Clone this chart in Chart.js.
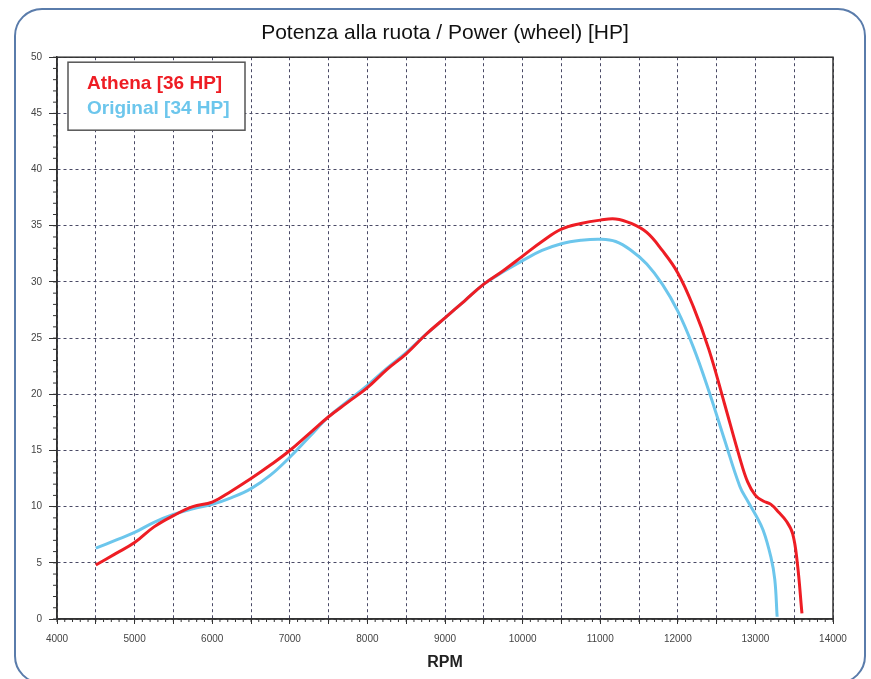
<!DOCTYPE html>
<html>
<head>
<meta charset="utf-8">
<script src="https://cdn.jsdelivr.net/npm/chart.js@4/dist/chart.umd.min.js"></script>
<style>
  body { margin: 0; background: #fff; }
  #wrap { position: relative; width: 871px; height: 679px; overflow: hidden; }
  #frame { position: absolute; left: 14px; top: 8px; width: 848px; height: 672px;
           border: 2px solid #5a7cab; border-radius: 28px; pointer-events: none; }
  canvas { position: absolute; left: 0; top: 0; }
</style>
</head>
<body>
<div id="wrap">
  <canvas id="powerChart" width="871" height="679"></canvas>
  <div id="frame"></div>
</div>
<script>
// Athena curve (rpm / HP)
const athenaRpm = [4500, 4750, 5000, 5250, 5500, 5750, 6000, 6250, 6500, 6750, 7000, 7250, 7500, 7750, 8000, 8250, 8500, 8750, 9000, 9250, 9500, 9750, 10000, 10250, 10500, 10750, 11000, 11200, 11400, 11600, 11800, 12000, 12200, 12400, 12600, 12800, 12900, 13000, 13100, 13200, 13300, 13400, 13480, 13540, 13600];
const athenaHp = [4.8, 5.8, 6.8, 8.2, 9.2, 10.0, 10.4, 11.4, 12.5, 13.7, 15.0, 16.5, 18.0, 19.3, 20.6, 22.2, 23.6, 25.3, 26.8, 28.3, 29.8, 31.0, 32.3, 33.6, 34.7, 35.2, 35.5, 35.6, 35.2, 34.4, 32.8, 30.8, 27.8, 24.0, 19.2, 14.3, 12.2, 11.0, 10.5, 10.2, 9.5, 8.7, 7.6, 5.0, 0.5];

// Original curve (rpm / HP)
const originalRpm = [4500, 4750, 5000, 5250, 5500, 5750, 6000, 6250, 6500, 6750, 7000, 7250, 7500, 7750, 8000, 8250, 8500, 8750, 9000, 9250, 9500, 9750, 10000, 10250, 10500, 10750, 11000, 11200, 11400, 11600, 11800, 12000, 12200, 12400, 12600, 12800, 12900, 13000, 13100, 13200, 13250, 13280];
const originalHp = [6.3, 7.0, 7.7, 8.6, 9.3, 9.8, 10.2, 10.8, 11.6, 12.8, 14.4, 16.2, 18.0, 19.4, 20.8, 22.3, 23.7, 25.3, 26.8, 28.3, 29.8, 30.9, 31.9, 32.8, 33.4, 33.7, 33.8, 33.6, 32.8, 31.6, 29.8, 27.4, 24.2, 20.3, 16.0, 11.8, 10.5, 9.3, 7.9, 5.5, 3.5, 0.2];

const legendLabels = ['Athena [36 HP]', 'Original [34 HP]'];
const lineColors = ['#ee1d24', '#6cc6ec'];

const toPoints = (xs, ys) => xs.map((x, i) => ({ x: x, y: ys[i] }));

const FONT = "'Liberation Sans', Arial, sans-serif";

// cornice del grafico, tacche minori e legenda nel riquadro
const decorPlugin = {
  id: 'decor',
  afterDraw(chart) {
    const ctx = chart.ctx;
    const a = chart.chartArea;
    const xs = chart.scales.x, ys = chart.scales.y;
    ctx.save();
    ctx.strokeStyle = '#333';
    ctx.lineWidth = 1.5;
    ctx.strokeRect(a.left, a.top, a.right - a.left, a.bottom - a.top);
    ctx.lineWidth = 1;
    ctx.beginPath();
    for (let r = 4000; r <= 14000; r += 100) {
      const px = xs.getPixelForValue(r);
      ctx.moveTo(px, a.bottom);
      ctx.lineTo(px, a.bottom + 3);
    }
    for (let h = 0; h <= 50; h += 1) {
      const py = ys.getPixelForValue(h);
      ctx.moveTo(a.left, py);
      ctx.lineTo(a.left - 4, py);
    }
    ctx.stroke();

    // legenda
    const bx = a.left + 11, by = a.top + 5, bw = 177, bh = 68;
    ctx.fillStyle = '#fff';
    ctx.fillRect(bx, by, bw, bh);
    ctx.strokeStyle = '#555';
    ctx.lineWidth = 1.5;
    ctx.strokeRect(bx, by, bw, bh);
    ctx.font = 'bold 19px ' + FONT;
    ctx.textBaseline = 'middle';
    ctx.textAlign = 'left';
    legendLabels.forEach((t, i) => {
      ctx.fillStyle = lineColors[i];
      ctx.fillText(t, bx + 19, by + 22 + i * 25);
    });
    ctx.restore();
  }
};

new Chart(document.getElementById('powerChart').getContext('2d'), {
  type: 'line',
  data: {
    datasets: [
      { label: legendLabels[0], data: toPoints(athenaRpm, athenaHp), borderColor: lineColors[0], borderWidth: 3, pointRadius: 0, tension: 0.4, fill: false },
      { label: legendLabels[1], data: toPoints(originalRpm, originalHp), borderColor: lineColors[1], borderWidth: 3, pointRadius: 0, tension: 0.4, fill: false }
    ]
  },
  options: {
    responsive: false,
    animation: false,
    layout: { padding: { left: 0, right: 38, top: 0, bottom: 0 } },
    plugins: {
      legend: { display: false },
      tooltip: { enabled: false },
      title: {
        display: true,
        fullSize: false,
        text: 'Potenza alla ruota / Power (wheel) [HP]',
        color: '#111',
        font: { family: FONT, size: 21, weight: 'normal' },
        padding: { top: 21, bottom: 11 }
      }
    },
    scales: {
      x: {
        type: 'linear',
        min: 4000, max: 14000,
        afterFit: s => { s.height = 60; },
        ticks: {
          stepSize: 500,
          autoSkip: false,
          maxRotation: 0,
          padding: 9,
          color: '#444',
          font: { family: FONT, size: 10 },
          callback: v => (v % 1000 === 0 ? String(v) : '')
        },
        grid: { color: '#4a4a66', lineWidth: 1, tickLength: 5, tickColor: '#333' },
        border: { dash: [3, 3], color: '#333', width: 1.5 },
        title: { display: true, text: 'RPM', color: '#222', font: { family: FONT, size: 16, weight: 'bold' }, padding: { top: 2, bottom: 7 } }
      },
      y: {
        min: 0, max: 50,
        afterFit: s => { s.width = 57; },
        ticks: {
          stepSize: 5,
          padding: 7,
          color: '#444',
          font: { family: FONT, size: 10 }
        },
        grid: { color: '#4a4a66', lineWidth: 1, tickLength: 8, tickColor: '#333' },
        border: { dash: [3, 3], color: '#333', width: 1.5 }
      }
    }
  },
  plugins: [decorPlugin]
});
</script>
</body>
</html>
